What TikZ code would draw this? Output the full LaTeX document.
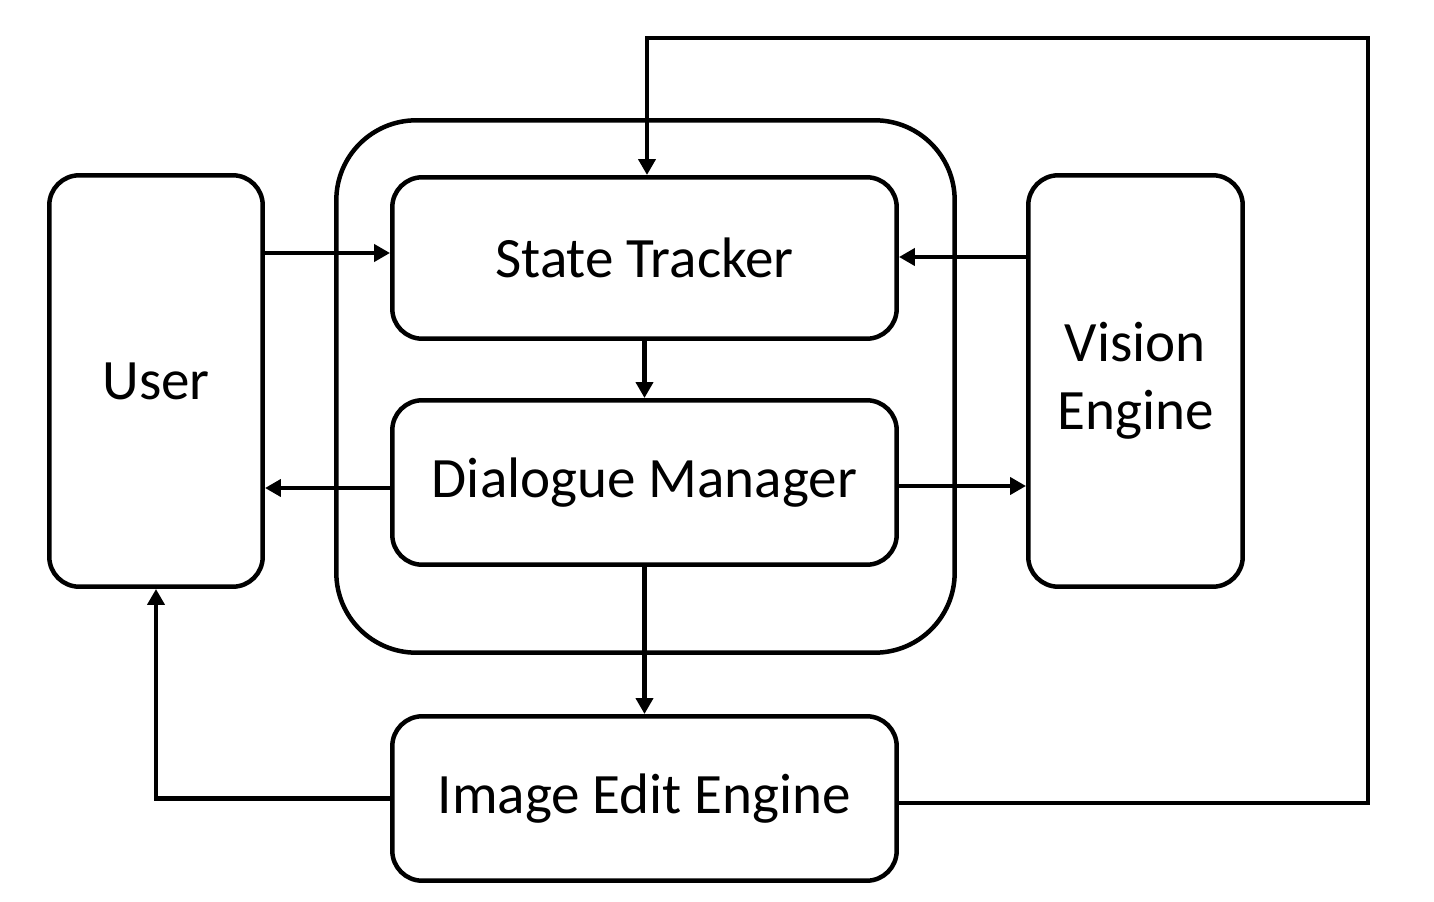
\documentclass[tikz,border=0pt]{standalone}
\usepackage{fontspec}
\setmainfont{Carlito}
\usetikzlibrary{arrows.meta}
\begin{document}
\begin{tikzpicture}[x=0.02cm,y=-0.02cm,
  box/.style={draw,line width=0.09cm,rounded corners=0.6cm,align=center,
    font=\fontsize{32.5}{39}\selectfont},
  outerbox/.style={draw,line width=0.09cm,rounded corners=1.6cm},
  arr/.style={line width=0.09cm,-{Triangle[length=0.32cm,width=0.34cm]}}]
\useasboundingbox (0,0) rectangle (1434,902);
\node[outerbox,minimum width=12.37cm,minimum height=10.65cm] (outer) at (645.5,386.5) {};
\node[box,minimum width=4.27cm,minimum height=8.23cm] (user) at (156,381) {User};
\node[box,minimum width=4.29cm,minimum height=8.23cm] (vision) at (1135.5,381) {Vision\\Engine};
\node[box,minimum width=10.09cm,minimum height=3.23cm] (st) at (644.5,258) {State Tracker};
\node[box,minimum width=10.09cm,minimum height=3.29cm] (dm) at (644.5,482.5) {Dialogue Manager};
\node[box,minimum width=10.09cm,minimum height=3.29cm] (iee) at (644.5,798.5) {Image Edit Engine};
\coordinate (c1) at (1368,38);
\draw[arr] ([yshift=0.1cm]user.east |- st.west) -- ([yshift=0.1cm]st.west);
\draw[arr] ([yshift=0.02cm]vision.west |- st.east) -- ([yshift=0.02cm]st.east);
\draw[arr] (st.south) -- (dm.north);
\draw[arr] ([yshift=-0.11cm]dm.west) -- ([yshift=-0.11cm]user.east |- dm.west);
\draw[arr] ([yshift=-0.07cm]dm.east) -- ([yshift=-0.07cm]vision.west |- dm.east);
\draw[arr] (dm.south) -- (iee.north);
\draw[arr] (iee.west) -| (user.south);
\draw[arr] ([yshift=-0.09cm]iee.east) -| (c1) -| ([xshift=0.05cm]st.north);
\end{tikzpicture}
\end{document}
